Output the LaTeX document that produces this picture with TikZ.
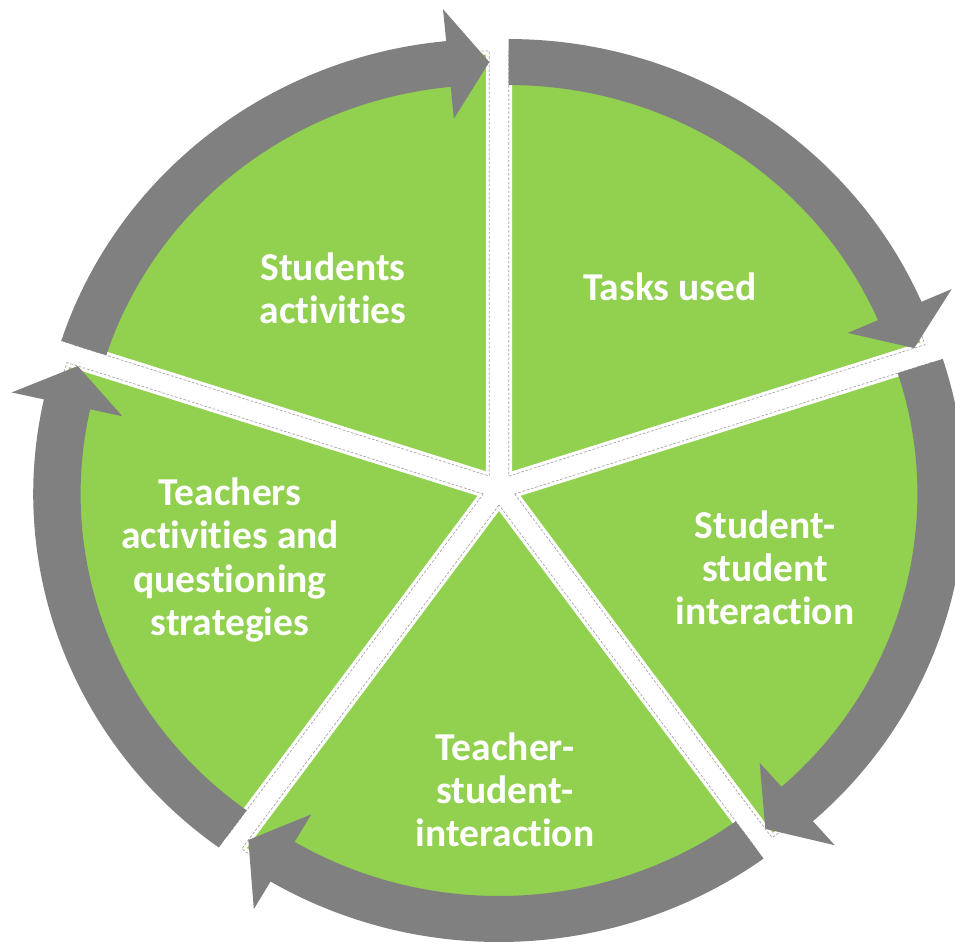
\documentclass[tikz,border=0pt]{standalone}
\usepackage{fontspec}
\setmainfont{Carlito}[Ligatures=NoCommon]
\definecolor{leafgreen}{HTML}{92D050}
\definecolor{ringgray}{HTML}{808080}
\definecolor{seamgray}{HTML}{A6A6A6}
\begin{document}
\begin{tikzpicture}[x=0.02cm,y=0.02cm,
                    slice/.style={fill=leafgreen},
                    slice rim/.style={draw=white,line width=4pt},
                    seam/.style={draw=seamgray,dash pattern=on 1.5pt off 1pt,line width=0.4pt},
                    ring arrow/.style={fill=ringgray},
                    label text/.style={text=white,align=center,font=\fontsize{22.5}{24.6}\selectfont\bfseries}
                   ]
   \useasboundingbox (-499,-458) rectangle (456,489);
   \begin{scope}[xscale=1.03]
     % slices of the pie, each pushed out along its middle
     \foreach \e in {90,18,-54,-126,162} {
       \begin{scope}[shift={({\e+36}:16)}]
         \path[slice] (0,0) -- (\e:425) arc[start angle=\e,end angle=\e+72,radius=425] -- cycle;
         \path[slice rim] (0,0) -- (\e:425) arc[start angle=\e,end angle=\e+72,radius=425] -- cycle;
         \path[seam] (0,0) -- (\e:425) arc[start angle=\e,end angle=\e+72,radius=425] -- cycle;
       \end{scope}
     }
     % curved arrows running clockwise round the slices
     \foreach \e in {90,18,-54,-126,162} {
       \begin{scope}[shift={({\e+36}:16)}]
         \path[ring arrow] ({\e+72}:437) arc[start angle=\e+72,end angle=\e+5.5,radius=437]
           -- ({\e+5.5}:469) -- (\e:414) -- ({\e+5.5}:359) -- ({\e+5.5}:391)
           arc[start angle=\e+5.5,end angle=\e+72,radius=391] -- cycle;
       \end{scope}
     }
   \end{scope}
   \node[label text] (students) at (-166,201) {Students\\activities};
   \node[label text] (tasks) at (171,202) {Tasks used};
   \node[label text] (peer) at (266,-79) {Student-\\student\\interaction};
   \node[label text] (teacherstudent) at (6,-301) {Teacher-\\student-\\interaction};
   \node[label text] (teachers) at (-269,-71) {Teachers\\activities and\\questioning\\strategies};
\end{tikzpicture}
\end{document}
